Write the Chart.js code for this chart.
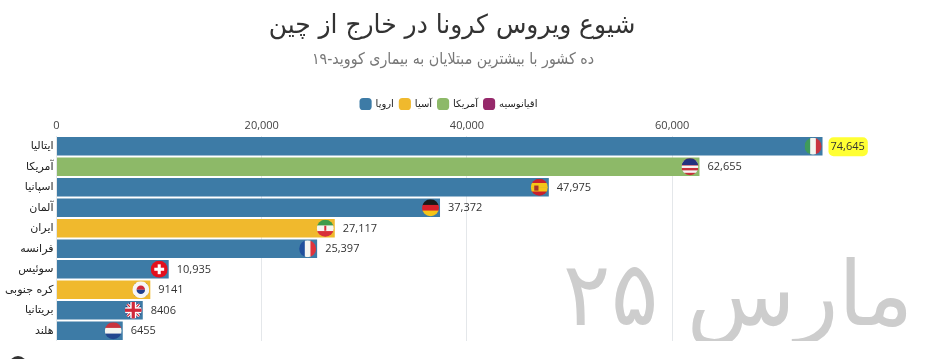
<!DOCTYPE html>
<html lang="fa">
<head>
<meta charset="utf-8">
<style>
  html, body { margin: 0; background: #fff; overflow: hidden; }
  #page { position: relative; width: 940px; height: 359px; font-family: "DejaVu Sans", sans-serif; }
  #wrap { position: absolute; left: 0; top: 0; width: 898px; height: 359px; }
  .txt { position: absolute; white-space: nowrap; direction: rtl; }
  #title { left: 452px; top: 9px; font-size: 26px; color: #333; transform: translateX(-50%) scaleX(0.96); }
  #subtitle { left: 453px; top: 49px; font-size: 16px; color: #777; transform: translateX(-50%) scaleX(0.89); }
  #stamp { left: 738px; top: 242px; height: 99px; overflow: hidden; font-size: 89px; color: #cdcdcd; transform: translateX(-50%); }
  #dot { position: absolute; left: 9px; top: 356px; width: 18px; height: 18px; border-radius: 50%; background: #333; }
</style>
</head>
<body>
<div id="page">
  <div id="wrap"><canvas id="chart"></canvas></div>
  <div class="txt" id="title">شیوع ویروس کرونا در خارج از چین</div>
  <div class="txt" id="subtitle">ده کشور با بیشترین مبتلایان به بیماری کووید-۱۹</div>
  <div class="txt" id="stamp">مارس ۲۵</div>
  <div id="dot"></div>
</div>
<script src="https://cdn.jsdelivr.net/npm/chart.js@4"></script>
<script>
// Top ten countries outside China, 25 March.
const COUNTRIES = ["ایتالیا", "آمریکا", "اسپانیا", "آلمان", "ایران", "فرانسه", "سوئیس", "کره جنوبی", "بریتانیا", "هلند"];
const CASES = [74645, 62655, 47975, 37372, 27117, 25397, 10935, 9141, 8406, 6455];
const COUNTRY_REGION = ["europe", "america", "europe", "europe", "asia", "europe", "europe", "asia", "europe", "europe"];
const FLAGS = ["it", "us", "es", "de", "ir", "fr", "ch", "kr", "gb", "nl"];
const REGIONS = ["europe", "asia", "america", "oceania"];
const REGION_NAMES = ["اروپا", "آسیا", "آمریکا", "اقیانوسیه"];
const REGION_COLORS = ["#3d7ba6", "#f0b92d", "#8db968", "#96296b"];
const X_TICKS = [0, 20000, 40000, 60000];

const NUM_FONT = '11px "Open Sans", sans-serif';
const fmt = (n) => n >= 10000 ? n.toLocaleString("en-US") : String(n);

// Stripes for each little round flag, drawn inside a clip of radius r.
const stripes = (ctx, x, y, r, cols, vertical) => {
  const n = cols.length;
  cols.forEach((c, i) => {
    ctx.fillStyle = c;
    if (vertical) ctx.fillRect(x - r + (2 * r / n) * i, y - r, 2 * r / n + 0.5, 2 * r);
    else ctx.fillRect(x - r, y - r + (2 * r / n) * i, 2 * r, 2 * r / n + 0.5);
  });
};
const FLAG_DRAW = {
  it: (c, x, y, r) => stripes(c, x, y, r, ["#3f9b5a", "#f4f5f0", "#c8343f"], true),
  fr: (c, x, y, r) => stripes(c, x, y, r, ["#1f4f9c", "#f4f5f0", "#e0343c"], true),
  de: (c, x, y, r) => stripes(c, x, y, r, ["#1a1a1a", "#d8202a", "#f5c518"], false),
  nl: (c, x, y, r) => stripes(c, x, y, r, ["#c8343f", "#f4f5f0", "#23478f"], false),
  es: (c, x, y, r) => {
    stripes(c, x, y, r, ["#c8202c", "#f5c518", "#f5c518", "#c8202c"], false);
    c.fillStyle = "#a8322a"; c.fillRect(x - r * 0.6, y - r * 0.2, r * 0.5, r * 0.6);
  },
  ir: (c, x, y, r) => {
    stripes(c, x, y, r, ["#3f9b4a", "#f6f6f2", "#d8303a"], false);
    c.fillStyle = "#d8303a"; c.fillRect(x - 1, y - 2.5, 2, 5);
  },
  ch: (c, x, y, r) => {
    c.fillStyle = "#e2101e"; c.fillRect(x - r, y - r, 2 * r, 2 * r);
    c.fillStyle = "#fff"; c.fillRect(x - r * 0.58, y - r * 0.18, r * 1.16, r * 0.36);
    c.fillRect(x - r * 0.18, y - r * 0.58, r * 0.36, r * 1.16);
  },
  kr: (c, x, y, r) => {
    c.fillStyle = "#f6f6f6"; c.fillRect(x - r, y - r, 2 * r, 2 * r);
    c.fillStyle = "#d0283a"; c.beginPath(); c.arc(x, y, r * 0.5, Math.PI, 0); c.fill();
    c.fillStyle = "#1f3f8f"; c.beginPath(); c.arc(x, y, r * 0.5, 0, Math.PI); c.fill();
    c.strokeStyle = "#333"; c.lineWidth = 1.4; c.setLineDash([2, 1]);
    [[-1, -1], [1, -1], [-1, 1], [1, 1]].forEach(([a, b]) => {
      c.beginPath();
      c.moveTo(x + a * r * 0.85 - b * 2, y + b * r * 0.65 + a * 2);
      c.lineTo(x + a * r * 0.85 + b * 2, y + b * r * 0.65 - a * 2);
      c.stroke();
    });
    c.setLineDash([]);
  },
  gb: (c, x, y, r) => {
    c.fillStyle = "#24407f"; c.fillRect(x - r, y - r, 2 * r, 2 * r);
    c.strokeStyle = "#fff"; c.lineWidth = 3;
    c.beginPath(); c.moveTo(x - r, y - r); c.lineTo(x + r, y + r); c.moveTo(x + r, y - r); c.lineTo(x - r, y + r); c.stroke();
    c.strokeStyle = "#d0283a"; c.lineWidth = 1.2; c.stroke();
    c.fillStyle = "#fff"; c.fillRect(x - r, y - 3, 2 * r, 6); c.fillRect(x - 3, y - r, 6, 2 * r);
    c.fillStyle = "#d0283a"; c.fillRect(x - r, y - 1.6, 2 * r, 3.2); c.fillRect(x - 1.6, y - r, 3.2, 2 * r);
  },
  us: (c, x, y, r) => {
    stripes(c, x, y, r, ["#c8303a", "#f6f6f6", "#c8303a", "#f6f6f6", "#c8303a", "#f6f6f6", "#c8303a"], false);
    c.fillStyle = "#24327f"; c.fillRect(x - r, y - r, 2 * r, r * 0.8);
  },
};

// Value labels, flags and the yellow marker on the leading label.
const barExtras = {
  id: "barExtras",
  afterDatasetsDraw(chart) {
    const { ctx, scales: { x: sx, y: sy } } = chart;
    ctx.save();
    CASES.forEach((v, i) => {
      const end = sx.getPixelForValue(v), mid = sy.getPixelForValue(i);
      ctx.save();
      ctx.beginPath(); ctx.arc(end - 9.5, mid, 8.5, 0, Math.PI * 2); ctx.clip();
      FLAG_DRAW[FLAGS[i]](ctx, end - 9.5, mid, 8.5);
      ctx.restore();
      ctx.font = NUM_FONT;
      const lx = end + 8, w = ctx.measureText(fmt(v)).width;
      if (i === 0) {
        ctx.fillStyle = "#ffff33";
        ctx.beginPath(); ctx.roundRect(lx - 2, mid - 9, w + 5, 19, 5); ctx.fill();
      }
      ctx.fillStyle = "#333";
      ctx.textAlign = "left"; ctx.textBaseline = "middle";
      ctx.fillText(fmt(v), lx, mid + 0.5);
    });
    ctx.restore();
  },
};

new Chart(document.getElementById("chart"), {
  type: "bar",
  data: {
    labels: COUNTRIES,
    datasets: REGIONS.map((r, k) => ({
      label: REGION_NAMES[k],
      data: CASES.map((v, i) => (COUNTRY_REGION[i] === r ? v : null)),
      backgroundColor: REGION_COLORS[k],
      barPercentage: 0.9,
      categoryPercentage: 1,
    })),
  },
  options: {
    indexAxis: "y",
    responsive: true, maintainAspectRatio: false, animation: false,
    layout: { padding: { top: 93, bottom: 18, left: 0, right: 0 } },
    plugins: {
      tooltip: { enabled: false },
      legend: {
        position: "top",
        labels: {
          usePointStyle: true, pointStyle: "rectRounded", boxHeight: 11, boxWidth: 11, padding: 6,
          color: "#222", font: { family: '"DejaVu Sans", sans-serif', size: 10 },
        },
      },
    },
    scales: {
      x: {
        position: "top", stacked: true, min: 0, max: 82000,
        afterBuildTicks: (s) => { s.ticks = X_TICKS.map((value) => ({ value })); },
        afterFit: (s) => { s.height = 17; },
        border: { display: false },
        grid: { color: "#e4e7ea", drawTicks: false },
        ticks: { color: "#444", padding: 4, maxRotation: 0, font: { family: '"Open Sans", sans-serif', size: 11 },
          callback: (v) => v.toLocaleString("en-US") },
      },
      y: {
        stacked: true,
        afterFit: (s) => { s.width = 56.5; },
        border: { display: false },
        grid: { display: false, drawTicks: false },
        ticks: { color: "#222", padding: 3, autoSkip: false, font: { family: '"DejaVu Sans", sans-serif', size: 11 } },
      },
    },
  },
  plugins: [barExtras],
});
</script>
</body>
</html>
